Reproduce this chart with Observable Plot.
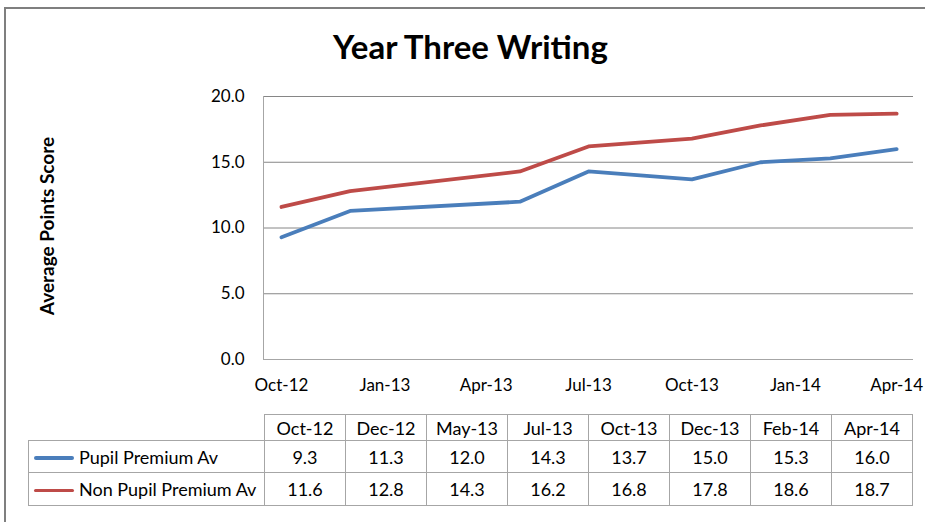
<!DOCTYPE html>
<html>
<head>
<meta charset="utf-8">
<script src="https://cdn.jsdelivr.net/npm/d3@7"></script>
<script src="https://cdn.jsdelivr.net/npm/@observablehq/plot@0.6"></script>
<style>
  html, body { margin: 0; padding: 0; background: #fff; overflow: hidden; }
  #wrap { position: relative; width: 925px; height: 522px; overflow: hidden; font-family: Lato, "Open Sans", sans-serif; }
  #border { position: absolute; left: 4px; top: 7px; width: 960px; height: 560px; border: 2px solid #7f7f7f; box-sizing: border-box; }
  #title { position: absolute; left: 0; width: 941px; top: 26px; text-align: center; font-weight: bold; font-size: 33px; line-height: 40px; color: #000; }
  #ylabel { position: absolute; left: 46px; top: 226px; transform: translate(-50%, -50%) rotate(-90deg); white-space: nowrap; font-weight: bold; font-size: 19px; color: #000; }
  #chart { position: absolute; left: 0; top: 0; }
  #table { position: absolute; left: 28px; top: 414px; border-collapse: collapse; font-size: 18px; color: #000; }
  #table td { border: 1px solid #a6a6a6; padding: 0; text-align: center; box-sizing: border-box; }
  #table td.val { width: 81px; }
  #table td.leg { width: 236px; text-align: left; white-space: nowrap; }
  #table td.blank { border-top: none; border-left: none; }
  .sw { display: inline-block; width: 40px; height: 3.5px; vertical-align: middle; margin-left: 5px; margin-right: 5px; position: relative; top: -1px; border-radius: 2px; }
</style>
</head>
<body>
<div id="wrap">
  <div id="border"></div>
  <div id="chart"></div>
  <div id="title"></div>
  <div id="ylabel"></div>
  <table id="table"></table>
</div>
<script>
const title = "Year Three Writing";
const yLabel = "Average Points Score";
const dates = ["2012-10-01", "2012-12-01", "2013-05-01", "2013-07-01", "2013-10-01", "2013-12-01", "2014-02-01", "2014-04-01"];
const dateLabels = ["Oct-12", "Dec-12", "May-13", "Jul-13", "Oct-13", "Dec-13", "Feb-14", "Apr-14"];
const seriesNames = ["Pupil Premium Av", "Non Pupil Premium Av"];
const pupilPremium = [9.3, 11.3, 12.0, 14.3, 13.7, 15.0, 15.3, 16.0];
const nonPupilPremium = [11.6, 12.8, 14.3, 16.2, 16.8, 17.8, 18.6, 18.7];
const seriesColors = ["#4a7ebb", "#be4b48"];
const xTicks = ["2012-10-01", "2013-01-01", "2013-04-01", "2013-07-01", "2013-10-01", "2014-01-01", "2014-04-01"];
const yTicks = [0, 5, 10, 15, 20];
const xDomain = ["2012-09-15", "2014-04-16"];

const seriesValues = [pupilPremium, nonPupilPremium];
const data = seriesNames.flatMap((name, s) =>
  dates.map((d, i) => ({series: name, date: new Date(d), value: seriesValues[s][i]}))
);

document.getElementById("title").textContent = title;
document.getElementById("ylabel").textContent = yLabel;

const chart = Plot.plot({
  width: 925,
  height: 400,
  marginLeft: 263,
  marginRight: 12,
  marginTop: 96,
  marginBottom: 41,
  style: {fontFamily: "Lato, 'Open Sans', sans-serif", fontSize: "17px", color: "#000", background: "transparent", overflow: "visible"},
  x: {type: "utc", domain: xDomain.map(d => new Date(d))},
  y: {domain: [0, 20]},
  color: {domain: seriesNames, range: seriesColors},
  marks: [
    Plot.gridY(yTicks, {stroke: "#868686", strokeOpacity: 1}),
    Plot.ruleX([new Date(xDomain[0])], {stroke: "#a6a6a6"}),
    Plot.ruleY([0], {stroke: "#a6a6a6"}),
    Plot.axisY({ticks: yTicks, tickFormat: d3.format(".1f"), tickSize: 0, tickPadding: 19, label: null, fontSize: 17}),
    Plot.axisX({ticks: xTicks.map(d => new Date(d)), tickFormat: d3.utcFormat("%b-%y"), tickSize: 0, tickPadding: 19, label: null, fontSize: 17}),
    Plot.line(data, {x: "date", y: "value", z: "series", stroke: "series", strokeWidth: 3.8, strokeLinejoin: "round", strokeLinecap: "round"})
  ]
});
document.getElementById("chart").appendChild(chart);

// data table below the chart
const table = document.getElementById("table");
const head = document.createElement("tr");
head.style.height = "26px";
const blank = document.createElement("td");
blank.className = "leg blank";
head.appendChild(blank);
dateLabels.forEach(l => {
  const td = document.createElement("td");
  td.className = "val";
  td.textContent = l;
  head.appendChild(td);
});
table.appendChild(head);
seriesNames.forEach((name, s) => {
  const tr = document.createElement("tr");
  tr.style.height = s === 0 ? "32px" : "33px";
  const leg = document.createElement("td");
  leg.className = "leg";
  const sw = document.createElement("span");
  sw.className = "sw";
  sw.style.background = seriesColors[s];
  leg.appendChild(sw);
  leg.appendChild(document.createTextNode(name));
  tr.appendChild(leg);
  seriesValues[s].forEach(v => {
    const td = document.createElement("td");
    td.className = "val";
    td.textContent = d3.format(".1f")(v);
    tr.appendChild(td);
  });
  table.appendChild(tr);
});
</script>
</body>
</html>
